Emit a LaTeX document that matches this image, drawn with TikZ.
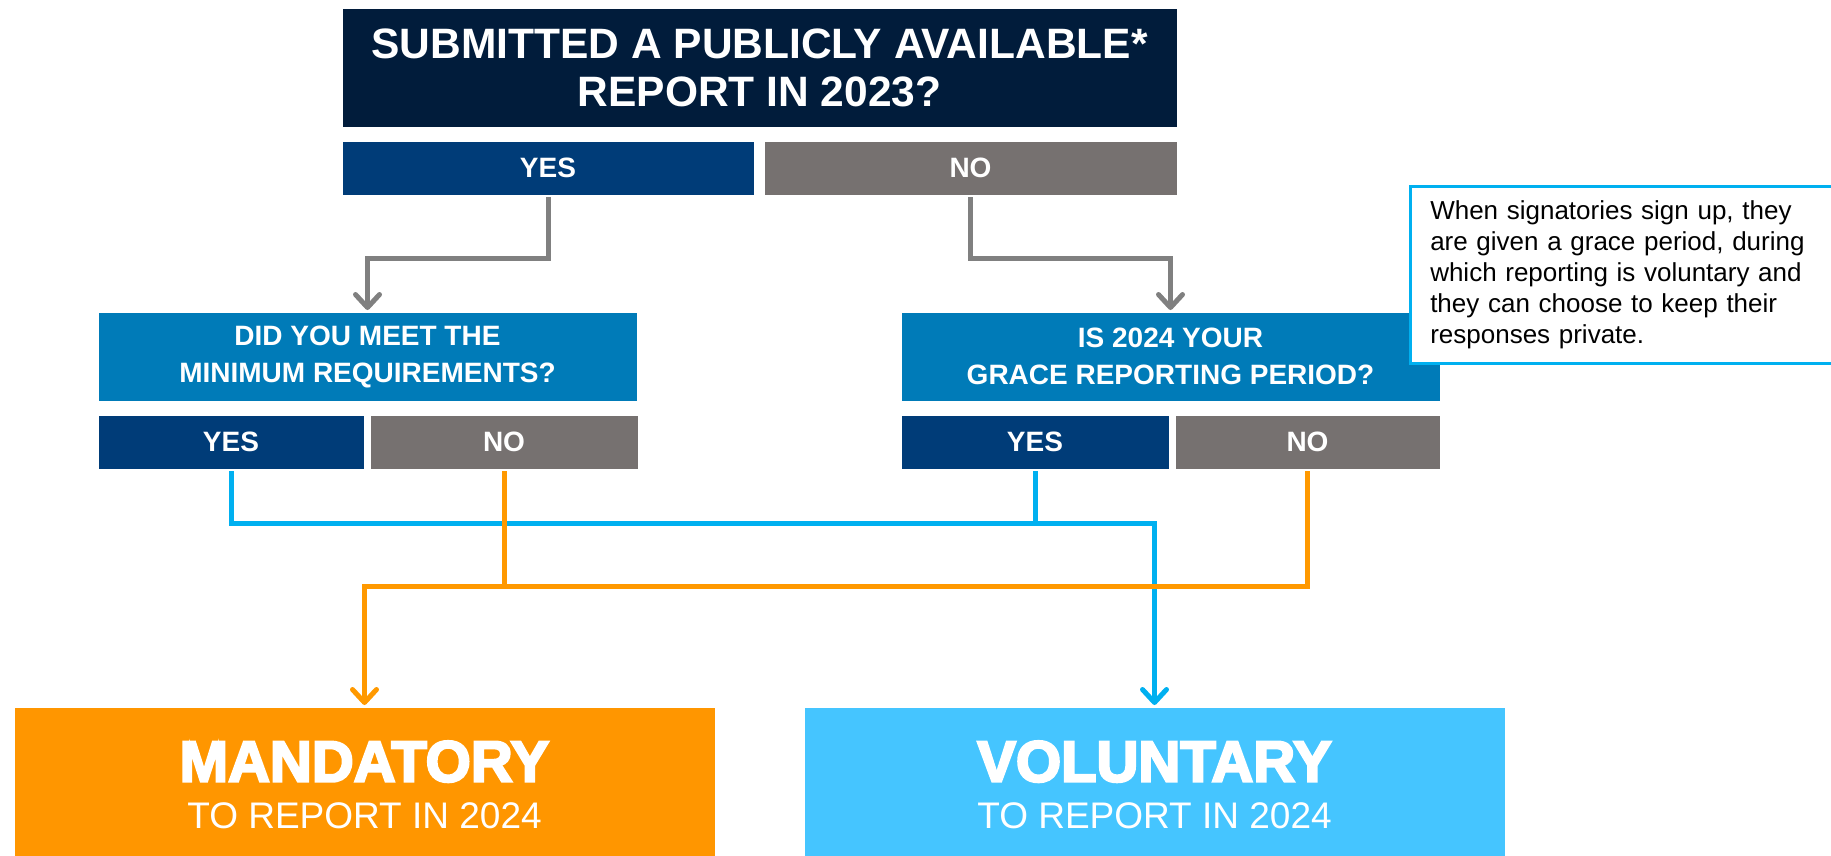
\documentclass[tikz,border=0pt]{standalone}
\usepackage{fontspec}
\setmainfont{Liberation Sans}
\newfontfamily\heavyfont[FakeBold=4]{Liberation Sans Bold}
\usetikzlibrary{arrows.meta}

\definecolor{navy}{HTML}{011C3B}
\definecolor{yesblue}{HTML}{003C78}
\definecolor{nogray}{HTML}{767170}
\definecolor{midblue}{HTML}{007BB8}
\definecolor{arrowgray}{HTML}{808080}
\definecolor{lineblue}{HTML}{00B0F0}
\definecolor{lineorange}{HTML}{FF9900}
\definecolor{mandorange}{HTML}{FF9600}
\definecolor{volblue}{HTML}{45C5FF}

\begin{document}
\begin{tikzpicture}[x=1pt,y=-1pt,>={Straight Barb[round,length=13pt,width=24pt]},line width=5pt,
    box/.style={anchor=north west,inner sep=0pt,text=white,align=center},
    question/.style={box,fill=midblue,minimum width=538pt,minimum height=88pt,font=\bfseries\fontsize{28}{37}\selectfont},
    answer/.style={box,minimum height=53pt,font=\bfseries\fontsize{28}{34}\selectfont},
    yes box/.style={answer,fill=yesblue},
    no box/.style={answer,fill=nogray},
    result/.style={box,minimum width=700pt,minimum height=155pt,font=\fontsize{37}{47}\selectfont},
    gray line/.style={draw=arrowgray,->},
    blue line/.style={draw=lineblue},
    orange line/.style={draw=lineorange}]
    \useasboundingbox (0,0) rectangle (1831,855);

    % first question
    \node[box,fill=navy,minimum width=834pt,minimum height=118pt,font=\bfseries\fontsize{42.5}{48}\selectfont] (submitted) at (340,6) {SUBMITTED A PUBLICLY AVAILABLE*\\REPORT IN 2023?};
    \node[yes box,minimum width=411pt] (subyes) at (340,139) {YES};
    \node[no box,minimum width=412pt] (subno) at (762,139) {NO};

    % second row
    \node[question] (minreq) at (96,310) {DID YOU MEET THE\\MINIMUM REQUIREMENTS?};
    \node[yes box,minimum width=265pt] (minyes) at (96,413) {YES};
    \node[no box,minimum width=267pt] (minno) at (368,413) {NO};

    \node[question] (grace) at (899,310) {IS 2024 YOUR\\GRACE REPORTING PERIOD?};
    \node[yes box,minimum width=267pt] (graceyes) at (899,413) {YES};
    \node[no box,minimum width=264pt] (graceno) at (1173,413) {NO};

    % note
    \node[anchor=north west,draw=lineblue,line width=2.5pt,fill=white,text width=390pt,inner xsep=20pt,minimum height=177pt,align=left,font=\fontsize{26}{31}\selectfont] (note) at (1409,185) {When signatories sign up, they\\are given a grace period, during\\which reporting is voluntary and\\they can choose to keep their\\responses private.};

    % results
    \node[result,fill=mandorange] (mandatory) at (12,705) {{\heavyfont\fontsize{58}{47}\selectfont MANDATORY}\\TO REPORT IN 2024};
    \node[result,fill=volblue] (voluntary) at (802,705) {{\heavyfont\fontsize{58}{47}\selectfont VOLUNTARY}\\TO REPORT IN 2024};

    \coordinate (bluejoin) at (graceyes.south |- 0,523);
    \coordinate (orangejoin) at (minno.south |- 0,586);

    \draw[gray line] (subyes.south) -- ++(0,61) -| (minreq.north);
    \draw[gray line] (subno.south) -- ++(0,61) -| (grace.north);

    \draw[blue line,->] (minyes.south) |- (bluejoin) -| (voluntary.north);
    \draw[blue line] (graceyes.south) -- (bluejoin);
    \draw[orange line,->] (minno.south) -- (orangejoin) -| (mandatory.north);
    \draw[orange line] (graceno.south) |- (orangejoin);
\end{tikzpicture}
\end{document}
